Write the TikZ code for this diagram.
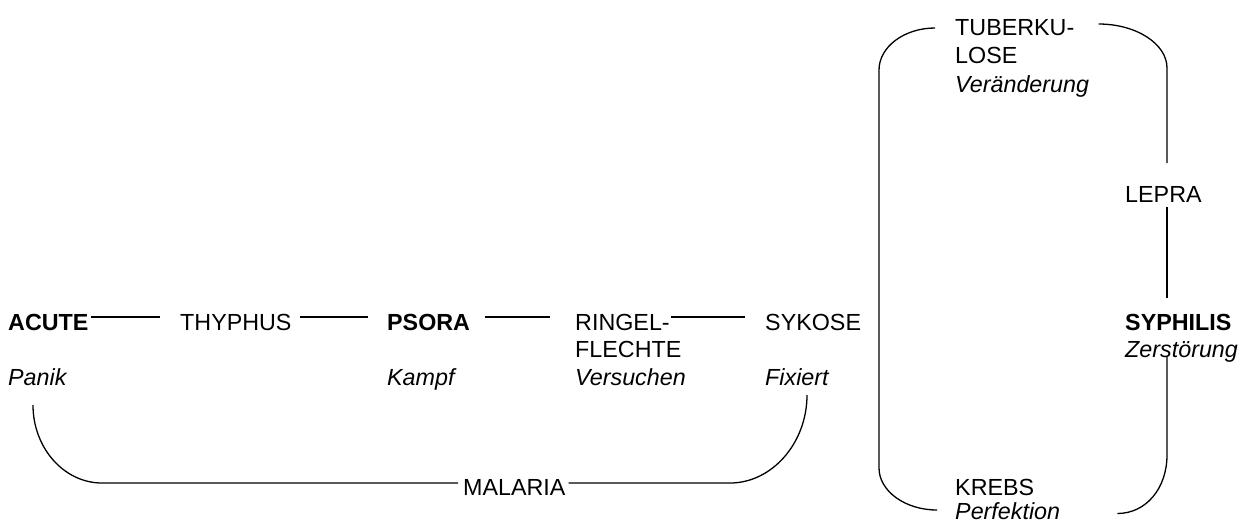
\documentclass[tikz,border=0pt]{standalone}
\usepackage{fontspec}
\setmainfont{Liberation Sans}
\begin{document}
\begin{tikzpicture}[x=1pt,y=-1pt,
  lbl/.style={anchor=base west, inner sep=0pt, font=\fontsize{23.3}{28}\selectfont},
  bld/.style={lbl, font=\fontsize{23.3}{28}\selectfont\bfseries},
  itl/.style={lbl, font=\fontsize{23.3}{28}\selectfont\itshape},
  conn/.style={line width=1.3pt, line cap=butt}]
\useasboundingbox (0,0) rectangle (1249,523);
% main row
\node[bld] (acute)   at (8,330)   {ACUTE};
\node[lbl] (thyphus) at (180,330) {THYPHUS};
\node[bld] (psora)   at (387,330) {PSORA};
\node[lbl] (ringel)  at (575,330) {RINGEL-};
\node[lbl] (flechte) at (575,357) {FLECHTE};
\node[lbl] (sykose)  at (765,330) {SYKOSE};
\node[itl] (panik)   at (8,385)   {Panik};
\node[itl] (kampf)   at (387,385) {Kampf};
\node[itl] (versuchen) at (575,385) {Versuchen};
\node[itl] (fixiert) at (765,385) {Fixiert};
\node[lbl] (malaria) at (463,495) {MALARIA};
% right group
\node[lbl] (tub1) at (955,35) {TUBERKU-};
\node[lbl] (tub2) at (955,63) {LOSE};
\node[itl] (tub3) at (955,92) {Veränderung};
\node[lbl] (lepra) at (1125,202) {LEPRA};
\node[bld] (syph) at (1125,330) {SYPHILIS};
\node[itl] (zer) at (1125,357) {Zerstörung};
\node[lbl] (krebs) at (955,495) {KREBS};
\node[itl] (perf) at (955,519.5) {Perfektion};
% horizontal connectors
\draw[conn] ([shift={(2,-13)}]acute.base east) -- ([shift={(-20,-13)}]thyphus.base west);
\draw[conn] ([shift={(8,-13)}]thyphus.base east) -- ([shift={(-19,-13)}]psora.base west);
\draw[conn] ([shift={(15,-13)}]psora.base east) -- ([shift={(-25,-13)}]ringel.base west);
\draw[conn] ([shift={(1,-13)}]ringel.base east) -- ([shift={(-20,-13)}]sykose.base west);
% malaria loop
\coordinate (m1) at (102,483);
\coordinate (m2) at (730,483);
\draw[conn] ([shift={(25,20)}]panik.base west) .. controls +(0,43) and +(-38,0) .. (m1)
  -- ([shift={(-5,-12)}]malaria.base west);
\draw[conn] ([shift={(3,-12)}]malaria.base east) -- (m2)
  .. controls +(42,0) and +(0,48) .. ([shift={(42,10)}]fixiert.base west);
% big bracket left
\coordinate (bl1) at (879,70);
\coordinate (bl2) at (879,468);
\draw[conn] ([shift={(-20,-7)}]tub1.base west) .. controls +(-31,0) and +(0,-23) .. (bl1)
  -- (bl2) .. controls +(0,23) and +(-32,0) .. ([shift={(-18,15)}]krebs.base west);
% right side
\coordinate (br1) at (1167,68);
\draw[conn] ([shift={(24,-11)}]tub1.base east) .. controls +(38,0) and +(0,-24) .. (br1)
  -- ([shift={(42,-39)}]lepra.base west);
\draw[conn] ([shift={(42,5)}]lepra.base west) -- ([shift={(42,-32)}]syph.base west);
\coordinate (br2) at (1167,455);
\draw[conn] ([shift={(42,0)}]zer.base west) -- (br2)
  .. controls +(0,33) and +(29,0) .. ([shift={(57,-6)}]perf.base east);
\end{tikzpicture}
\end{document}
